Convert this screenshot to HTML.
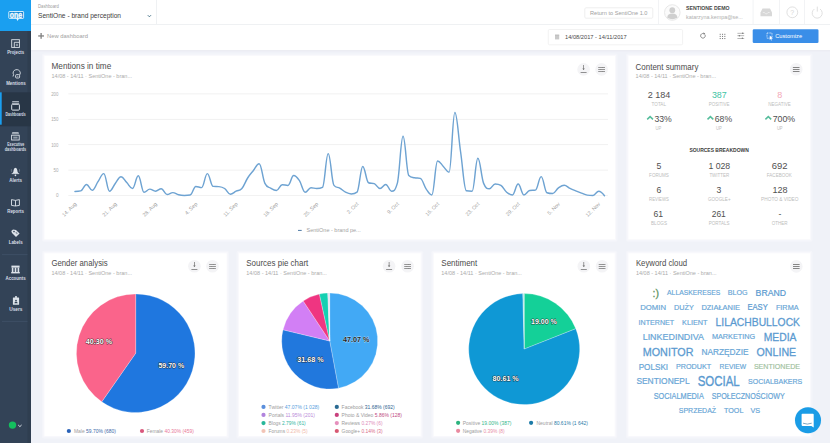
<!DOCTYPE html><html><head><meta charset="utf-8"><style>html,body{margin:0;padding:0;}body{width:830px;height:443px;overflow:hidden;background:#f0f2f8;font-family:'Liberation Sans', sans-serif;}svg{display:block;position:absolute;left:0;top:0}text{font-family:'Liberation Sans', sans-serif;}</style></head><body>
<svg width="830" height="443" viewBox="0 0 830 443">
<rect x="0" y="0" width="830" height="443" fill="#f0f2f8"/>
<rect x="31" y="0" width="799" height="50.2" fill="#ffffff"/>
<rect x="31" y="24" width="799" height="0.8" fill="#eceef1"/>
<rect x="31" y="50.2" width="799" height="1.2" fill="#eaecf2"/>
<rect x="156" y="0" width="0.8" height="24" fill="#eceef1"/>
<text x="38.00" y="7.80" font-size="4.5" fill="#9c9c9c" font-weight="normal" textLength="20.80" lengthAdjust="spacingAndGlyphs">Dashboard</text>
<text x="38.00" y="18.25" font-size="7.8" fill="#3c3c3c" font-weight="normal" textLength="83.00" lengthAdjust="spacingAndGlyphs">SentiOne - brand perception</text>
<path d="M147.8 15.2 L149.4 16.8 L151 15.2" fill="none" stroke="#3a6a80" stroke-width="0.9"/>
<rect x="584.8" y="7.8" width="68" height="10.4" rx="1.2" fill="#fff" stroke="#e8e8e8" stroke-width="0.7"/>
<text x="590.00" y="14.80" font-size="5.2" fill="#a0a0a0" font-weight="normal" textLength="57.50" lengthAdjust="spacingAndGlyphs">Return to SentiOne 1.0</text>
<rect x="658.2" y="0" width="0.7" height="24" fill="#eceef1"/>
<circle cx="672.3" cy="12.5" r="7.8" fill="#fbfbfb" stroke="#e2e2e2" stroke-width="0.8"/>
<circle cx="672.3" cy="10.2" r="2.9" fill="#cfcfcf"/>
<path d="M667.2 17.8 Q667.5 13.6 672.3 13.6 Q677.1 13.6 677.4 17.8 Q672.3 20.5 667.2 17.8Z" fill="#cfcfcf"/>
<text x="686.10" y="10.30" font-size="5.0" fill="#474747" font-weight="bold" textLength="43.40" lengthAdjust="spacingAndGlyphs">SENTIONE DEMO</text>
<text x="686.10" y="18.60" font-size="5.2" fill="#b0b0b0" font-weight="normal" textLength="56.70" lengthAdjust="spacingAndGlyphs">katarzyna.kempa@se...</text>
<rect x="752.7" y="0" width="0.7" height="24" fill="#eceef1"/>
<rect x="779.3" y="0" width="0.7" height="24" fill="#eceef1"/>
<rect x="804.2" y="0" width="0.7" height="24" fill="#eceef1"/>
<path d="M760.5 12.5 L762.5 8.6 L770 8.6 L772 12.5 L772 16.3 L760.5 16.3 Z" fill="#d8d8d8"/>
<path d="M762.8 12.5 L764.5 12.5 L765.5 13.8 L767 13.8 L768 12.5 L769.7 12.5" fill="none" stroke="#f4f4f4" stroke-width="0.7"/>
<circle cx="792.3" cy="12.3" r="5.4" fill="none" stroke="#dcdcdc" stroke-width="0.9"/>
<text x="792.30" y="14.90" font-size="7" fill="#d6d6d6" font-weight="normal" text-anchor="middle">?</text>
<path d="M814.4 9.0 A5 5 0 1 0 820.0 9.0" fill="none" stroke="#dcdcdc" stroke-width="0.9"/>
<rect x="816.8" y="6.6" width="0.9" height="5" fill="#dcdcdc"/>
<rect x="38.2" y="35.3" width="5.8" height="1.3" fill="#808080"/><rect x="40.45" y="33.0" width="1.3" height="5.8" fill="#808080"/>
<text x="47.00" y="37.90" font-size="5.4" fill="#a2a2a2" font-weight="normal" textLength="40.90" lengthAdjust="spacingAndGlyphs">New dashboard</text>
<rect x="548.3" y="29.5" width="134.3" height="15.3" rx="1.2" fill="#fff" stroke="#ececec" stroke-width="0.7"/>
<rect x="555" y="35.2" width="4.2" height="4.2" fill="#c9c9c9"/><rect x="555" y="34.6" width="4.2" height="1" fill="#b5b5b5"/>
<text x="565.00" y="39.40" font-size="5.4" fill="#4a4a4a" font-weight="normal" textLength="61.70" lengthAdjust="spacingAndGlyphs">14/08/2017 - 14/11/2017</text>
<path d="M704.9 34.6 A2.3 2.3 0 1 1 703.6 33.6" fill="none" stroke="#7c7c7c" stroke-width="0.9"/>
<path d="M703.0 32.6 L705.2 33.2 L704.0 35.0Z" fill="#7c7c7c"/>
<rect x="719.70" y="33.80" width="1.05" height="1.05" fill="#7c7c7c"/>
<rect x="719.70" y="35.90" width="1.05" height="1.05" fill="#7c7c7c"/>
<rect x="719.70" y="38.00" width="1.05" height="1.05" fill="#7c7c7c"/>
<rect x="722.00" y="33.80" width="1.05" height="1.05" fill="#7c7c7c"/>
<rect x="722.00" y="35.90" width="1.05" height="1.05" fill="#7c7c7c"/>
<rect x="722.00" y="38.00" width="1.05" height="1.05" fill="#7c7c7c"/>
<rect x="724.30" y="33.80" width="1.05" height="1.05" fill="#7c7c7c"/>
<rect x="724.30" y="35.90" width="1.05" height="1.05" fill="#7c7c7c"/>
<rect x="724.30" y="38.00" width="1.05" height="1.05" fill="#7c7c7c"/>
<rect x="737.4" y="32.90" width="6.8" height="0.6" fill="#8a8a8a"/>
<circle cx="742.7" cy="33.2" r="0.75" fill="#7c7c7c"/>
<rect x="737.4" y="35.50" width="6.8" height="0.6" fill="#8a8a8a"/>
<circle cx="739.4" cy="35.8" r="0.75" fill="#7c7c7c"/>
<rect x="737.4" y="38.00" width="6.8" height="0.6" fill="#8a8a8a"/>
<circle cx="742.4" cy="38.3" r="0.75" fill="#7c7c7c"/>
<rect x="752.7" y="29.2" width="65.8" height="13.8" rx="1.3" fill="#3a8ee8"/>
<rect x="767" y="33" width="5" height="5.2" fill="none" stroke="#fff" stroke-width="0.7" stroke-dasharray="1 0.6"/>
<path d="M769.8 35.6 L772.8 38.6 L771.1 38.7 L771.9 40.3 L771.2 40.6 L770.5 39.0 L769.6 39.8Z" fill="#fff"/>
<text x="775.20" y="38.30" font-size="5.4" fill="#ffffff" font-weight="normal" textLength="26.90" lengthAdjust="spacingAndGlyphs">Customize</text>
<rect x="0" y="0" width="31" height="443" fill="#334357"/>
<rect x="27.5" y="0" width="3.5" height="443" fill="#2f3e50"/>
<rect x="0" y="0" width="31" height="31" fill="#1a9ff0"/>
<rect x="8.8" y="11.5" width="14.8" height="6.9" rx="0.6" fill="#1088d6" stroke="#e6f6ff" stroke-width="0.9"/>
<path d="M16.4 18.3 L17.3 21.0 L19.4 18.3Z" fill="#e6f6ff"/>
<text x="9.70" y="17.55" font-size="8.6" fill="#f2faff" font-weight="bold" textLength="12.30" lengthAdjust="spacingAndGlyphs" stroke="#f2faff" stroke-width="0.4">one</text>
<rect x="0" y="92.3" width="31" height="34" fill="#283646"/>
<rect x="0" y="92.3" width="1.7" height="32.4" fill="#1a9ff0"/>
<rect x="2" y="254.2" width="25.5" height="0.9" fill="#3f5066"/>
<rect x="2" y="320.9" width="25.5" height="0.9" fill="#3f5066"/>
<text x="7.20" y="54.15" font-size="4.5" fill="#d9dfe7" font-weight="bold" textLength="17.00" lengthAdjust="spacingAndGlyphs">Projects</text>
<text x="6.20" y="84.85" font-size="4.5" fill="#d9dfe7" font-weight="bold" textLength="19.40" lengthAdjust="spacingAndGlyphs">Mentions</text>
<text x="5.60" y="115.95" font-size="4.5" fill="#d9dfe7" font-weight="bold" textLength="20.00" lengthAdjust="spacingAndGlyphs">Dashboards</text>
<text x="7.20" y="145.95" font-size="4.5" fill="#d9dfe7" font-weight="bold" textLength="17.00" lengthAdjust="spacingAndGlyphs">Executive</text>
<text x="4.80" y="151.05" font-size="4.5" fill="#d9dfe7" font-weight="bold" textLength="21.40" lengthAdjust="spacingAndGlyphs">dashboards</text>
<text x="9.20" y="181.85" font-size="4.5" fill="#d9dfe7" font-weight="bold" textLength="12.70" lengthAdjust="spacingAndGlyphs">Alerts</text>
<text x="7.20" y="212.95" font-size="4.5" fill="#d9dfe7" font-weight="bold" textLength="16.70" lengthAdjust="spacingAndGlyphs">Reports</text>
<text x="8.70" y="243.75" font-size="4.5" fill="#d9dfe7" font-weight="bold" textLength="14.00" lengthAdjust="spacingAndGlyphs">Labels</text>
<text x="5.50" y="279.95" font-size="4.5" fill="#d9dfe7" font-weight="bold" textLength="20.10" lengthAdjust="spacingAndGlyphs">Accounts</text>
<text x="9.20" y="310.95" font-size="4.5" fill="#d9dfe7" font-weight="bold" textLength="13.30" lengthAdjust="spacingAndGlyphs">Users</text>
<rect x="11.7" y="39.7" width="7.7" height="7.7" fill="none" stroke="#dde3ea" stroke-width="0.9"/><path d="M14.3 47.4 L14.3 42.3 L19.4 42.3" fill="none" stroke="#dde3ea" stroke-width="0.9"/><rect x="15.8" y="43.8" width="2.2" height="2.2" fill="#dde3ea" opacity="0.5"/>
<path d="M13.0 76.5 L13.6 74.6 A3.6 3.3 0 1 1 16.2 76.2" fill="none" stroke="#dde3ea" stroke-width="0.9"/><rect x="15.6" y="74.6" width="4.0" height="3.4" rx="1" fill="#334357" stroke="#dde3ea" stroke-width="0.9"/><rect x="16.8" y="75.8" width="1.6" height="1.0" fill="#dde3ea" opacity="0.6"/>
<rect x="11.7" y="104.3" width="7.7" height="5.8" rx="0.8" fill="none" stroke="#dde3ea" stroke-width="1.0"/><rect x="12.2" y="101.3" width="6.7" height="0.8" fill="#dde3ea"/><rect x="11.9" y="102.8" width="7.3" height="0.8" fill="#dde3ea"/>
<rect x="11.6" y="135.2" width="7.6" height="4.8" fill="none" stroke="#dde3ea" stroke-width="0.9"/><rect x="12.2" y="132.0" width="6.4" height="0.7" fill="#dde3ea"/><rect x="11.9" y="133.4" width="7.0" height="0.7" fill="#dde3ea"/><rect x="13.2" y="136.6" width="4.4" height="2.0" fill="#dde3ea" opacity="0.55"/>
<path d="M12.2 173.6 Q13.6 172.6 13.6 170.2 Q13.8 167.7 15.45 167.7 Q17.1 167.7 17.3 170.2 Q17.3 172.6 18.7 173.6Z" fill="#dde3ea"/><rect x="11.7" y="173.3" width="7.5" height="0.8" fill="#dde3ea"/><circle cx="15.45" cy="175.4" r="0.8" fill="#dde3ea"/><path d="M11.4 169.2 Q11.2 170.6 11.6 171.8 M19.5 169.2 Q19.7 170.6 19.3 171.8" fill="none" stroke="#dde3ea" stroke-width="0.5" opacity="0.6"/>
<path d="M11.5 199.6 L15.45 200.4 L19.4 199.6 L19.4 205.4 L15.45 206.0 L11.5 205.4Z" fill="none" stroke="#dde3ea" stroke-width="0.9" stroke-linejoin="round"/><rect x="15.0" y="200.4" width="0.9" height="5.6" fill="#dde3ea"/>
<path d="M11.3 231.0 L13.0 229.6 L16.0 229.9 L19.6 233.5 L16.0 237.0 L12.0 233.1Z" fill="#dde3ea"/><circle cx="14.0" cy="231.6" r="0.8" fill="#334357"/><rect x="15.5" y="232.4" width="2.2" height="1.3" fill="#334357" opacity="0.5" transform="rotate(45 16.6 233)"/>
<path d="M11.4 267.6 L11.4 265.6 L19.6 265.6 L19.6 267.6Z" fill="#dde3ea"/><rect x="11.2" y="272.0" width="8.6" height="1.4" fill="#dde3ea"/><rect x="11.8" y="267.6" width="1.6" height="4.4" fill="#dde3ea"/><rect x="14.7" y="267.6" width="1.6" height="4.4" fill="#dde3ea"/><rect x="17.6" y="267.6" width="1.6" height="4.4" fill="#dde3ea"/>
<rect x="12.9" y="297.6" width="6.2" height="7.2" rx="0.5" fill="#dde3ea"/><rect x="15.2" y="296.0" width="1.6" height="2.0" fill="#dde3ea"/><circle cx="16.0" cy="300.6" r="0.9" fill="#334357"/><path d="M14.3 303.2 Q14.6 301.8 16.0 301.8 Q17.4 301.8 17.7 303.2Z" fill="#334357"/>
<circle cx="12.5" cy="425.1" r="3.7" fill="#14bf5e"/>
<path d="M18.2 425.0 L19.9 426.6 L21.6 425.0" fill="none" stroke="#e2e8ef" stroke-width="0.95"/>
<rect x="42.0" y="53.5" width="575.50" height="188.20" rx="2" fill="#f4f5fa"/>
<rect x="43.5" y="55.0" width="572.50" height="185.20" fill="#f9f9fc"/>
<rect x="44.5" y="56.0" width="570.50" height="183.20" fill="#ffffff"/>
<text x="51.50" y="69.00" font-size="8.2" fill="#4b4b4b" font-weight="normal" textLength="59.70" lengthAdjust="spacingAndGlyphs">Mentions in time</text>
<text x="51.50" y="77.80" font-size="5.0" fill="#ababab" font-weight="normal" textLength="80.50" lengthAdjust="spacingAndGlyphs">14/08 - 14/11 · SentiOne - bran...</text>
<circle cx="583.6" cy="69.4" r="6.3" fill="#f4f4f6"/>
<rect x="583.25" y="65.00" width="0.7" height="4.6" fill="#6e6e6e"/>
<path d="M582.30 68.40 L583.60 70.00 L584.90 68.40Z" fill="#6e6e6e"/>
<rect x="580.60" y="72.10" width="6.0" height="0.75" fill="#6e6e6e"/>
<circle cx="601.6" cy="69.4" r="6.3" fill="#f4f4f6"/>
<rect x="598.20" y="67.15" width="6.8" height="0.7" fill="#6e6e6e"/>
<circle cx="602.60" cy="67.50" r="0.6" fill="#8a8a8a"/>
<rect x="598.20" y="69.15" width="6.8" height="0.7" fill="#6e6e6e"/>
<circle cx="600.70" cy="69.50" r="0.6" fill="#8a8a8a"/>
<rect x="598.20" y="71.15" width="6.8" height="0.7" fill="#6e6e6e"/>
<circle cx="602.60" cy="71.50" r="0.6" fill="#8a8a8a"/>
<rect x="68.3" y="93.55" width="539.7" height="0.7" fill="#ececec"/>
<text x="51.20" y="95.70" font-size="5.0" fill="#ababab" font-weight="normal" textLength="7.30" lengthAdjust="spacingAndGlyphs">200</text>
<rect x="68.3" y="118.95" width="539.7" height="0.7" fill="#ececec"/>
<text x="51.20" y="121.10" font-size="5.0" fill="#ababab" font-weight="normal" textLength="7.30" lengthAdjust="spacingAndGlyphs">150</text>
<rect x="68.3" y="144.35" width="539.7" height="0.7" fill="#ececec"/>
<text x="51.20" y="146.50" font-size="5.0" fill="#ababab" font-weight="normal" textLength="7.30" lengthAdjust="spacingAndGlyphs">100</text>
<rect x="68.3" y="169.75" width="539.7" height="0.7" fill="#ececec"/>
<text x="53.50" y="171.90" font-size="5.0" fill="#ababab" font-weight="normal" textLength="5.00" lengthAdjust="spacingAndGlyphs">50</text>
<rect x="68.3" y="195.25" width="539.7" height="0.7" fill="#ececec"/>
<text x="55.90" y="197.40" font-size="5.0" fill="#ababab" font-weight="normal" textLength="2.60" lengthAdjust="spacingAndGlyphs">0</text>
<text x="76.87" y="204.30" font-size="5.3" fill="#a0a0a0" text-anchor="end" transform="rotate(-45 76.87 204.30)">14. Aug</text>
<text x="117.16" y="204.30" font-size="5.3" fill="#a0a0a0" text-anchor="end" transform="rotate(-45 117.16 204.30)">21. Aug</text>
<text x="157.45" y="204.30" font-size="5.3" fill="#a0a0a0" text-anchor="end" transform="rotate(-45 157.45 204.30)">28. Aug</text>
<text x="197.74" y="204.30" font-size="5.3" fill="#a0a0a0" text-anchor="end" transform="rotate(-45 197.74 204.30)">4. Sep</text>
<text x="238.03" y="204.30" font-size="5.3" fill="#a0a0a0" text-anchor="end" transform="rotate(-45 238.03 204.30)">11. Sep</text>
<text x="278.32" y="204.30" font-size="5.3" fill="#a0a0a0" text-anchor="end" transform="rotate(-45 278.32 204.30)">18. Sep</text>
<text x="318.61" y="204.30" font-size="5.3" fill="#a0a0a0" text-anchor="end" transform="rotate(-45 318.61 204.30)">25. Sep</text>
<text x="358.90" y="204.30" font-size="5.3" fill="#a0a0a0" text-anchor="end" transform="rotate(-45 358.90 204.30)">2. Oct</text>
<text x="399.19" y="204.30" font-size="5.3" fill="#a0a0a0" text-anchor="end" transform="rotate(-45 399.19 204.30)">9. Oct</text>
<text x="439.48" y="204.30" font-size="5.3" fill="#a0a0a0" text-anchor="end" transform="rotate(-45 439.48 204.30)">16. Oct</text>
<text x="479.77" y="204.30" font-size="5.3" fill="#a0a0a0" text-anchor="end" transform="rotate(-45 479.77 204.30)">23. Oct</text>
<text x="520.06" y="204.30" font-size="5.3" fill="#a0a0a0" text-anchor="end" transform="rotate(-45 520.06 204.30)">29. Oct</text>
<text x="560.35" y="204.30" font-size="5.3" fill="#a0a0a0" text-anchor="end" transform="rotate(-45 560.35 204.30)">5. Nov</text>
<text x="600.64" y="204.30" font-size="5.3" fill="#a0a0a0" text-anchor="end" transform="rotate(-45 600.64 204.30)">12. Nov</text>
<path d="M74.97 191.40 C74.97 191.40 78.42 191.40 80.73 190.90 C83.03 190.40 84.18 184.40 86.48 184.40 C88.78 184.40 89.93 190.30 92.24 190.30 C94.54 190.30 95.69 185.04 97.99 181.70 C100.30 178.36 101.45 173.60 103.75 173.60 C106.05 173.60 107.20 191.20 109.50 191.20 C111.81 191.20 112.96 186.40 115.26 183.50 C117.56 180.60 118.71 176.70 121.02 176.70 C123.32 176.70 124.47 180.24 126.77 182.60 C129.07 184.96 130.23 188.50 132.53 188.50 C134.83 188.50 135.98 175.80 138.28 175.80 C140.59 175.80 141.74 192.30 144.04 192.30 C146.34 192.30 147.49 189.10 149.79 189.10 C152.10 189.10 153.25 191.20 155.55 191.20 C157.85 191.20 159.00 188.70 161.31 188.70 C163.61 188.70 164.76 194.50 167.06 194.50 C169.36 194.50 170.52 192.60 172.82 192.60 C175.12 192.60 176.27 194.24 178.57 194.80 C180.88 195.36 182.03 195.40 184.33 195.40 C186.63 195.40 187.78 195.40 190.09 195.00 C192.39 194.60 193.54 186.40 195.84 186.40 C198.14 186.40 199.29 187.60 201.60 187.60 C203.90 187.60 205.05 173.60 207.35 173.60 C209.65 173.60 210.81 186.20 213.11 186.40 C215.41 186.60 216.56 186.40 218.86 186.60 C221.17 186.80 222.32 186.98 224.62 188.50 C226.92 190.02 228.07 194.20 230.38 194.20 C232.68 194.20 233.83 192.34 236.13 191.20 C238.43 190.06 239.58 191.14 241.89 188.50 C244.19 185.86 245.34 181.60 247.64 178.00 C249.95 174.40 251.10 173.36 253.40 170.50 C255.70 167.64 256.85 163.70 259.15 163.70 C261.46 163.70 262.61 178.70 264.91 183.40 C267.21 188.10 268.36 186.70 270.67 188.10 C272.97 189.50 274.12 190.40 276.42 190.40 C278.72 190.40 279.88 184.70 282.18 184.70 C284.48 184.70 285.63 185.40 287.93 185.40 C290.24 185.40 291.39 175.50 293.69 175.50 C295.99 175.50 297.14 177.36 299.44 180.70 C301.75 184.04 302.90 192.20 305.20 192.20 C307.50 192.20 308.65 187.70 310.96 187.70 C313.26 187.70 314.41 188.50 316.71 188.50 C319.01 188.50 320.17 188.50 322.47 187.40 C324.77 186.30 325.92 153.60 328.22 153.60 C330.53 153.60 331.68 182.70 333.98 185.40 C336.28 188.10 337.43 186.74 339.74 188.10 C342.04 189.46 343.19 191.04 345.49 192.20 C347.79 193.36 348.94 193.90 351.25 193.90 C353.55 193.90 354.70 193.90 357.00 192.20 C359.30 190.50 360.46 166.40 362.76 166.40 C365.06 166.40 366.21 181.80 368.51 182.70 C370.82 183.60 371.97 182.70 374.27 183.60 C376.57 184.50 377.72 188.50 380.03 188.50 C382.33 188.50 383.48 184.40 385.78 184.40 C388.08 184.40 389.23 191.20 391.54 191.20 C393.84 191.20 394.99 191.20 397.29 183.40 C399.59 175.60 400.75 136.30 403.05 136.30 C405.35 136.30 406.50 173.20 408.80 175.50 C411.11 177.80 412.26 177.22 414.56 177.80 C416.86 178.38 418.01 177.80 420.32 178.40 C422.62 179.00 423.77 185.50 426.07 188.80 C428.37 192.10 429.52 194.90 431.83 194.90 C434.13 194.90 435.28 161.00 437.58 161.00 C439.89 161.00 441.04 164.16 443.34 166.40 C445.64 168.64 446.79 172.20 449.09 172.20 C451.40 172.20 452.55 112.50 454.85 112.50 C457.15 112.50 458.30 136.34 460.61 152.00 C462.91 167.66 464.06 190.40 466.36 190.80 C468.66 191.20 469.82 191.20 472.12 191.20 C474.42 191.20 475.57 158.30 477.87 158.30 C480.18 158.30 481.33 178.00 483.63 183.40 C485.93 188.80 487.08 188.80 489.38 188.80 C491.69 188.80 492.84 184.00 495.14 184.00 C497.44 184.00 498.59 184.00 500.90 185.40 C503.20 186.80 504.35 190.30 506.65 192.20 C508.95 194.10 510.11 194.90 512.41 194.90 C514.71 194.90 515.86 184.00 518.16 184.00 C520.47 184.00 521.62 194.90 523.92 194.90 C526.22 194.90 527.37 190.90 529.68 190.50 C531.98 190.10 533.13 190.50 535.43 190.10 C537.73 189.70 538.88 176.60 541.19 176.60 C543.49 176.60 544.64 191.90 546.94 192.70 C549.24 193.50 550.40 193.50 552.70 193.50 C555.00 193.50 556.15 189.56 558.45 187.90 C560.76 186.24 561.91 185.20 564.21 185.20 C566.51 185.20 567.66 187.26 569.97 188.40 C572.27 189.54 573.42 189.96 575.72 190.90 C578.02 191.84 579.17 192.26 581.48 193.10 C583.78 193.94 584.93 194.80 587.23 195.10 C589.54 195.40 590.69 195.40 592.99 195.40 C595.29 195.40 596.44 191.20 598.74 191.20 C601.05 191.20 604.50 195.70 604.50 195.70" fill="none" stroke="#6ea3d2" stroke-width="1.45" stroke-linejoin="round" stroke-linecap="round"/>
<rect x="298" y="229.9" width="3.7" height="1.0" fill="#4f7aa6"/>
<text x="306.50" y="232.20" font-size="5.1" fill="#a2a2a2" font-weight="normal" textLength="54.20" lengthAdjust="spacingAndGlyphs">SentiOne - brand pe...</text>
<rect x="626.0" y="53.5" width="186.50" height="188.20" rx="2" fill="#f4f5fa"/>
<rect x="627.5" y="55.0" width="183.50" height="185.20" fill="#f9f9fc"/>
<rect x="628.5" y="56.0" width="181.50" height="183.20" fill="#ffffff"/>
<text x="635.60" y="69.80" font-size="8.2" fill="#4b4b4b" font-weight="normal" textLength="62.80" lengthAdjust="spacingAndGlyphs">Content summary</text>
<text x="635.60" y="77.50" font-size="5.0" fill="#ababab" font-weight="normal" textLength="80.40" lengthAdjust="spacingAndGlyphs">14/08 - 14/11 · SentiOne - bran...</text>
<circle cx="796.2" cy="69.2" r="6.3" fill="#f4f4f6"/>
<rect x="792.90" y="67.10" width="6.6" height="0.8" fill="#6a6a6a"/>
<rect x="792.90" y="69.10" width="6.6" height="0.8" fill="#6a6a6a"/>
<rect x="792.90" y="71.10" width="6.6" height="0.8" fill="#6a6a6a"/>
<text x="647.70" y="98.10" font-size="9.3" fill="#505050" font-weight="normal" textLength="22.60" lengthAdjust="spacingAndGlyphs">2 184</text>
<text x="651.60" y="106.10" font-size="5.0" fill="#bdbdbd" font-weight="normal" textLength="14.40" lengthAdjust="spacingAndGlyphs">TOTAL</text>
<text x="711.90" y="98.10" font-size="9.3" fill="#40c4a4" font-weight="normal" textLength="14.80" lengthAdjust="spacingAndGlyphs">387</text>
<text x="708.80" y="106.10" font-size="5.0" fill="#bdbdbd" font-weight="normal" textLength="20.80" lengthAdjust="spacingAndGlyphs">POSITIVE</text>
<text x="777.30" y="98.10" font-size="9.3" fill="#f3a9b7" font-weight="normal" textLength="5.00" lengthAdjust="spacingAndGlyphs">8</text>
<text x="768.20" y="106.10" font-size="5.0" fill="#bdbdbd" font-weight="normal" textLength="22.50" lengthAdjust="spacingAndGlyphs">NEGATIVE</text>
<path d="M647.20 119.40 L650.10 116.60 L653.00 119.40" fill="none" stroke="#56bd9c" stroke-width="1.5"/>
<text x="654.50" y="122.00" font-size="9.3" fill="#505050" font-weight="normal" textLength="17.30" lengthAdjust="spacingAndGlyphs">33%</text>
<path d="M707.50 119.40 L710.40 116.60 L713.30 119.40" fill="none" stroke="#56bd9c" stroke-width="1.5"/>
<text x="714.80" y="122.00" font-size="9.3" fill="#505050" font-weight="normal" textLength="17.30" lengthAdjust="spacingAndGlyphs">68%</text>
<path d="M765.40 119.40 L768.30 116.60 L771.20 119.40" fill="none" stroke="#56bd9c" stroke-width="1.5"/>
<text x="772.70" y="122.00" font-size="9.3" fill="#505050" font-weight="normal" textLength="22.50" lengthAdjust="spacingAndGlyphs">700%</text>
<text x="655.40" y="129.60" font-size="5.0" fill="#bdbdbd" font-weight="normal" textLength="5.80" lengthAdjust="spacingAndGlyphs">UP</text>
<text x="716.10" y="129.60" font-size="5.0" fill="#bdbdbd" font-weight="normal" textLength="5.80" lengthAdjust="spacingAndGlyphs">UP</text>
<text x="776.90" y="129.60" font-size="5.0" fill="#bdbdbd" font-weight="normal" textLength="5.70" lengthAdjust="spacingAndGlyphs">UP</text>
<text x="689.40" y="151.60" font-size="5.6" fill="#3a3a3a" font-weight="bold" textLength="59.40" lengthAdjust="spacingAndGlyphs">SOURCES BREAKDOWN</text>
<text x="656.40" y="168.50" font-size="9.3" fill="#505050" font-weight="normal" textLength="4.80" lengthAdjust="spacingAndGlyphs">5</text>
<text x="649.10" y="176.60" font-size="5.0" fill="#bdbdbd" font-weight="normal" textLength="19.80" lengthAdjust="spacingAndGlyphs">FORUMS</text>
<text x="708.40" y="168.50" font-size="9.3" fill="#505050" font-weight="normal" textLength="21.80" lengthAdjust="spacingAndGlyphs">1 028</text>
<text x="709.40" y="176.60" font-size="5.0" fill="#bdbdbd" font-weight="normal" textLength="19.70" lengthAdjust="spacingAndGlyphs">TWITTER</text>
<text x="771.70" y="168.50" font-size="9.3" fill="#505050" font-weight="normal" textLength="15.80" lengthAdjust="spacingAndGlyphs">692</text>
<text x="766.80" y="176.60" font-size="5.0" fill="#bdbdbd" font-weight="normal" textLength="25.10" lengthAdjust="spacingAndGlyphs">FACEBOOK</text>
<text x="656.40" y="192.60" font-size="9.3" fill="#505050" font-weight="normal" textLength="4.80" lengthAdjust="spacingAndGlyphs">6</text>
<text x="649.10" y="200.80" font-size="5.0" fill="#bdbdbd" font-weight="normal" textLength="19.80" lengthAdjust="spacingAndGlyphs">REVIEWS</text>
<text x="716.50" y="192.60" font-size="9.3" fill="#505050" font-weight="normal" textLength="4.80" lengthAdjust="spacingAndGlyphs">3</text>
<text x="707.90" y="200.80" font-size="5.0" fill="#bdbdbd" font-weight="normal" textLength="22.70" lengthAdjust="spacingAndGlyphs">GOOGLE+</text>
<text x="772.40" y="192.60" font-size="9.3" fill="#505050" font-weight="normal" textLength="15.10" lengthAdjust="spacingAndGlyphs">128</text>
<text x="761.10" y="200.80" font-size="5.0" fill="#bdbdbd" font-weight="normal" textLength="37.40" lengthAdjust="spacingAndGlyphs">PHOTO &amp; VIDEO</text>
<text x="653.50" y="216.70" font-size="9.3" fill="#505050" font-weight="normal" textLength="9.60" lengthAdjust="spacingAndGlyphs">61</text>
<text x="651.00" y="224.80" font-size="5.0" fill="#bdbdbd" font-weight="normal" textLength="16.00" lengthAdjust="spacingAndGlyphs">BLOGS</text>
<text x="711.70" y="216.70" font-size="9.3" fill="#505050" font-weight="normal" textLength="14.10" lengthAdjust="spacingAndGlyphs">261</text>
<text x="708.80" y="224.80" font-size="5.0" fill="#bdbdbd" font-weight="normal" textLength="20.80" lengthAdjust="spacingAndGlyphs">PORTALS</text>
<text x="778.40" y="216.70" font-size="9.3" fill="#505050" font-weight="normal" textLength="2.90" lengthAdjust="spacingAndGlyphs">-</text>
<text x="771.70" y="224.80" font-size="5.0" fill="#bdbdbd" font-weight="normal" textLength="15.80" lengthAdjust="spacingAndGlyphs">OTHER</text>
<rect x="42.0" y="250.8" width="187.10" height="187.60" rx="2" fill="#f4f5fa"/>
<rect x="43.5" y="252.3" width="184.10" height="184.60" fill="#f9f9fc"/>
<rect x="44.5" y="253.3" width="182.10" height="182.60" fill="#ffffff"/>
<text x="51.40" y="265.70" font-size="8.2" fill="#4b4b4b" font-weight="normal" textLength="56.30" lengthAdjust="spacingAndGlyphs">Gender analysis</text>
<text x="51.40" y="274.80" font-size="5.0" fill="#ababab" font-weight="normal" textLength="80.60" lengthAdjust="spacingAndGlyphs">14/08 - 14/11 · SentiOne - bran...</text>
<circle cx="194.4" cy="266.3" r="6.3" fill="#f4f4f6"/>
<rect x="194.05" y="262.00" width="0.7" height="4.6" fill="#6e6e6e"/>
<path d="M193.10 265.40 L194.40 267.00 L195.70 265.40Z" fill="#6e6e6e"/>
<rect x="191.40" y="269.10" width="6.0" height="0.75" fill="#6e6e6e"/>
<circle cx="212.5" cy="266.3" r="6.3" fill="#f4f4f6"/>
<rect x="209.10" y="264.15" width="6.8" height="0.7" fill="#6e6e6e"/>
<circle cx="213.50" cy="264.50" r="0.6" fill="#8a8a8a"/>
<rect x="209.10" y="266.15" width="6.8" height="0.7" fill="#6e6e6e"/>
<circle cx="211.60" cy="266.50" r="0.6" fill="#8a8a8a"/>
<rect x="209.10" y="268.15" width="6.8" height="0.7" fill="#6e6e6e"/>
<circle cx="213.50" cy="268.50" r="0.6" fill="#8a8a8a"/>
<path d="M135.70 353.20 L135.70 293.90 A59.3 59.3 0 1 1 101.75 401.82 Z" fill="#1f77df" stroke="#ffffff" stroke-opacity="0.7" stroke-width="0.35" stroke-linejoin="round"/>
<path d="M135.70 353.20 L101.75 401.82 A59.3 59.3 0 0 1 135.70 293.90 Z" fill="#fa648b" stroke="#ffffff" stroke-opacity="0.7" stroke-width="0.35" stroke-linejoin="round"/>
<text x="158.40" y="368.00" font-size="7.6" fill="#ffffff" font-weight="bold" textLength="25.80" lengthAdjust="spacingAndGlyphs" stroke="#1a1a1a" stroke-opacity="0.75" stroke-width="1.1" paint-order="stroke" stroke-linejoin="round">59.70 %</text>
<text x="85.80" y="343.80" font-size="7.6" fill="#ffffff" font-weight="bold" textLength="26.20" lengthAdjust="spacingAndGlyphs" stroke="#1a1a1a" stroke-opacity="0.75" stroke-width="1.1" paint-order="stroke" stroke-linejoin="round">40.30 %</text>
<circle cx="68.85" cy="431.00" r="2.1" fill="#2a62b8"/>
<text x="73.90" y="432.80" font-size="5.2" fill="#9c9c9c" textLength="42.00" lengthAdjust="spacingAndGlyphs">Male <tspan fill="#3c68a8">59.70% (680)</tspan></text>
<circle cx="142.00" cy="431.00" r="2.1" fill="#d9577c"/>
<text x="146.80" y="432.80" font-size="5.2" fill="#9c9c9c" textLength="47.00" lengthAdjust="spacingAndGlyphs">Female <tspan fill="#e87898">40.30% (459)</tspan></text>
<rect x="236.5" y="250.8" width="186.70" height="187.60" rx="2" fill="#f4f5fa"/>
<rect x="238" y="252.3" width="183.70" height="184.60" fill="#f9f9fc"/>
<rect x="239" y="253.3" width="181.70" height="182.60" fill="#ffffff"/>
<text x="246.30" y="265.70" font-size="8.2" fill="#4b4b4b" font-weight="normal" textLength="62.00" lengthAdjust="spacingAndGlyphs">Sources pie chart</text>
<text x="246.30" y="274.80" font-size="5.0" fill="#ababab" font-weight="normal" textLength="80.60" lengthAdjust="spacingAndGlyphs">14/08 - 14/11 · SentiOne - bran...</text>
<circle cx="389.1" cy="266.3" r="6.3" fill="#f4f4f6"/>
<rect x="388.75" y="262.00" width="0.7" height="4.6" fill="#6e6e6e"/>
<path d="M387.80 265.40 L389.10 267.00 L390.40 265.40Z" fill="#6e6e6e"/>
<rect x="386.10" y="269.10" width="6.0" height="0.75" fill="#6e6e6e"/>
<circle cx="407.6" cy="266.3" r="6.3" fill="#f4f4f6"/>
<rect x="404.20" y="264.15" width="6.8" height="0.7" fill="#6e6e6e"/>
<circle cx="408.60" cy="264.50" r="0.6" fill="#8a8a8a"/>
<rect x="404.20" y="266.15" width="6.8" height="0.7" fill="#6e6e6e"/>
<circle cx="406.70" cy="266.50" r="0.6" fill="#8a8a8a"/>
<rect x="404.20" y="268.15" width="6.8" height="0.7" fill="#6e6e6e"/>
<circle cx="408.60" cy="268.50" r="0.6" fill="#8a8a8a"/>
<path d="M329.70 341.00 L329.70 293.00 A48.0 48.0 0 0 1 338.49 388.19 Z" fill="#42a9f5" stroke="#ffffff" stroke-opacity="0.7" stroke-width="0.35" stroke-linejoin="round"/>
<path d="M329.70 341.00 L338.49 388.19 A48.0 48.0 0 0 1 283.03 329.79 Z" fill="#2178dd" stroke="#ffffff" stroke-opacity="0.7" stroke-width="0.35" stroke-linejoin="round"/>
<path d="M329.70 341.00 L283.03 329.79 A48.0 48.0 0 0 1 303.22 300.96 Z" fill="#d27ff5" stroke="#ffffff" stroke-opacity="0.7" stroke-width="0.35" stroke-linejoin="round"/>
<path d="M329.70 341.00 L303.22 300.96 A48.0 48.0 0 0 1 319.41 294.12 Z" fill="#ef3581" stroke="#ffffff" stroke-opacity="0.7" stroke-width="0.35" stroke-linejoin="round"/>
<path d="M329.70 341.00 L319.41 294.12 A48.0 48.0 0 0 1 327.74 293.04 Z" fill="#14d0b2" stroke="#ffffff" stroke-opacity="0.7" stroke-width="0.35" stroke-linejoin="round"/>
<path d="M329.70 341.00 L327.74 293.04 A48.0 48.0 0 0 1 328.43 293.02 Z" fill="#c9cbe6" stroke="#ffffff" stroke-opacity="0.7" stroke-width="0.35" stroke-linejoin="round"/>
<path d="M329.70 341.00 L328.43 293.02 A48.0 48.0 0 0 1 329.25 293.00 Z" fill="#c9cbe6" stroke="#ffffff" stroke-opacity="0.7" stroke-width="0.35" stroke-linejoin="round"/>
<path d="M329.70 341.00 L329.25 293.00 A48.0 48.0 0 0 1 329.67 293.00 Z" fill="#c9cbe6" stroke="#ffffff" stroke-opacity="0.7" stroke-width="0.35" stroke-linejoin="round"/>
<text x="343.00" y="341.80" font-size="7.6" fill="#1e1e1e" font-weight="bold" textLength="26.30" lengthAdjust="spacingAndGlyphs" stroke="#ffffff" stroke-opacity="0.6" stroke-width="0.8" paint-order="stroke" stroke-linejoin="round">47.07 %</text>
<text x="297.20" y="362.00" font-size="7.6" fill="#ffffff" font-weight="bold" textLength="26.50" lengthAdjust="spacingAndGlyphs" stroke="#1a1a1a" stroke-opacity="0.75" stroke-width="1.1" paint-order="stroke" stroke-linejoin="round">31.68 %</text>
<circle cx="263.50" cy="406.90" r="2.1" fill="#5b8fdc"/>
<text x="268.60" y="408.70" font-size="5.2" fill="#9c9c9c" textLength="50.60" lengthAdjust="spacingAndGlyphs">Twitter <tspan fill="#58a0de">47.07% (1 028)</tspan></text>
<circle cx="263.50" cy="414.90" r="2.1" fill="#b183dd"/>
<text x="268.60" y="416.70" font-size="5.2" fill="#9c9c9c" textLength="46.30" lengthAdjust="spacingAndGlyphs">Portals <tspan fill="#b98ad8">11.95% (201)</tspan></text>
<circle cx="263.50" cy="423.10" r="2.1" fill="#27b79a"/>
<text x="268.60" y="424.90" font-size="5.2" fill="#9c9c9c" textLength="37.10" lengthAdjust="spacingAndGlyphs">Blogs <tspan fill="#2fb5a0">2.79% (61)</tspan></text>
<circle cx="263.50" cy="431.00" r="2.1" fill="#f2c4b6"/>
<text x="268.60" y="432.80" font-size="5.2" fill="#9c9c9c" textLength="39.00" lengthAdjust="spacingAndGlyphs">Forums <tspan fill="#f0b9a9">0.23% (5)</tspan></text>
<circle cx="336.80" cy="406.90" r="2.1" fill="#2a6a92"/>
<text x="341.60" y="408.70" font-size="5.2" fill="#9c9c9c" textLength="53.10" lengthAdjust="spacingAndGlyphs">Facebook <tspan fill="#2f5f90">31.68% (692)</tspan></text>
<circle cx="336.80" cy="414.90" r="2.1" fill="#c8407d"/>
<text x="341.60" y="416.70" font-size="5.2" fill="#9c9c9c" textLength="60.30" lengthAdjust="spacingAndGlyphs">Photo &amp; Video <tspan fill="#c04a80">5.86% (128)</tspan></text>
<circle cx="336.80" cy="423.10" r="2.1" fill="#e690bd"/>
<text x="341.60" y="424.90" font-size="5.2" fill="#9c9c9c" textLength="41.00" lengthAdjust="spacingAndGlyphs">Reviews <tspan fill="#e08ab8">0.27% (6)</tspan></text>
<circle cx="336.80" cy="431.00" r="2.1" fill="#d75872"/>
<text x="341.60" y="432.80" font-size="5.2" fill="#9c9c9c" textLength="41.00" lengthAdjust="spacingAndGlyphs">Google+ <tspan fill="#d86a88">0.14% (3)</tspan></text>
<rect x="431.3" y="250.8" width="185.90" height="187.60" rx="2" fill="#f4f5fa"/>
<rect x="432.8" y="252.3" width="182.90" height="184.60" fill="#f9f9fc"/>
<rect x="433.8" y="253.3" width="180.90" height="182.60" fill="#ffffff"/>
<text x="441.30" y="265.70" font-size="8.2" fill="#4b4b4b" font-weight="normal" textLength="36.00" lengthAdjust="spacingAndGlyphs">Sentiment</text>
<text x="441.30" y="274.80" font-size="5.0" fill="#ababab" font-weight="normal" textLength="80.60" lengthAdjust="spacingAndGlyphs">14/08 - 14/11 · SentiOne - bran...</text>
<circle cx="583.8" cy="266.3" r="6.3" fill="#f4f4f6"/>
<rect x="583.45" y="262.00" width="0.7" height="4.6" fill="#6e6e6e"/>
<path d="M582.50 265.40 L583.80 267.00 L585.10 265.40Z" fill="#6e6e6e"/>
<rect x="580.80" y="269.10" width="6.0" height="0.75" fill="#6e6e6e"/>
<circle cx="602.1" cy="266.3" r="6.3" fill="#f4f4f6"/>
<rect x="598.70" y="264.15" width="6.8" height="0.7" fill="#6e6e6e"/>
<circle cx="603.10" cy="264.50" r="0.6" fill="#8a8a8a"/>
<rect x="598.70" y="266.15" width="6.8" height="0.7" fill="#6e6e6e"/>
<circle cx="601.20" cy="266.50" r="0.6" fill="#8a8a8a"/>
<rect x="598.70" y="268.15" width="6.8" height="0.7" fill="#6e6e6e"/>
<circle cx="603.10" cy="268.50" r="0.6" fill="#8a8a8a"/>
<path d="M524.20 349.10 L524.20 293.60 A55.5 55.5 0 0 1 575.80 328.67 Z" fill="#14d098" stroke="#ffffff" stroke-opacity="0.7" stroke-width="0.35" stroke-linejoin="round"/>
<path d="M524.20 349.10 L575.80 328.67 A55.5 55.5 0 1 1 522.84 293.62 Z" fill="#0f98d5" stroke="#ffffff" stroke-opacity="0.7" stroke-width="0.35" stroke-linejoin="round"/>
<path d="M524.20 349.10 L522.84 293.62 A55.5 55.5 0 0 1 524.20 293.60 Z" fill="#b8e6e8" stroke="#ffffff" stroke-opacity="0.7" stroke-width="0.35" stroke-linejoin="round"/>
<text x="531.00" y="323.80" font-size="7.6" fill="#ffffff" font-weight="bold" textLength="25.80" lengthAdjust="spacingAndGlyphs" stroke="#1a1a1a" stroke-opacity="0.75" stroke-width="1.1" paint-order="stroke" stroke-linejoin="round">19.00 %</text>
<text x="492.50" y="381.00" font-size="7.6" fill="#ffffff" font-weight="bold" textLength="26.20" lengthAdjust="spacingAndGlyphs" stroke="#1a1a1a" stroke-opacity="0.75" stroke-width="1.1" paint-order="stroke" stroke-linejoin="round">80.61 %</text>
<circle cx="458.10" cy="422.80" r="2.1" fill="#2cb37e"/>
<text x="462.70" y="424.60" font-size="5.2" fill="#9c9c9c" textLength="48.80" lengthAdjust="spacingAndGlyphs">Positive <tspan fill="#34b88a">19.00% (387)</tspan></text>
<circle cx="531.10" cy="422.80" r="2.1" fill="#1b7aa6"/>
<text x="536.50" y="424.60" font-size="5.2" fill="#9c9c9c" textLength="51.50" lengthAdjust="spacingAndGlyphs">Neutral <tspan fill="#2a7aa8">80.61% (1 642)</tspan></text>
<circle cx="458.10" cy="430.80" r="2.1" fill="#ea8aa0"/>
<text x="462.70" y="432.60" font-size="5.2" fill="#9c9c9c" textLength="42.00" lengthAdjust="spacingAndGlyphs">Negative <tspan fill="#e890a8">0.39% (8)</tspan></text>
<rect x="626.0" y="250.8" width="186.50" height="187.60" rx="2" fill="#f4f5fa"/>
<rect x="627.5" y="252.3" width="183.50" height="184.60" fill="#f9f9fc"/>
<rect x="628.5" y="253.3" width="181.50" height="182.60" fill="#ffffff"/>
<text x="635.90" y="265.70" font-size="8.2" fill="#4b4b4b" font-weight="normal" textLength="51.20" lengthAdjust="spacingAndGlyphs">Keyword cloud</text>
<text x="635.90" y="274.80" font-size="5.0" fill="#ababab" font-weight="normal" textLength="80.60" lengthAdjust="spacingAndGlyphs">14/08 - 14/11 · SentiOne - bran...</text>
<circle cx="796.3" cy="266.4" r="6.3" fill="#f4f4f6"/>
<rect x="793.00" y="264.10" width="6.6" height="0.8" fill="#6a6a6a"/>
<rect x="793.00" y="266.10" width="6.6" height="0.8" fill="#6a6a6a"/>
<rect x="793.00" y="268.10" width="6.6" height="0.8" fill="#6a6a6a"/>
<text x="667.10" y="295.15" font-size="7.41" fill="#68a6d6" font-weight="normal" textLength="53.20" lengthAdjust="spacingAndGlyphs" stroke="#68a6d6" stroke-width="0.178">ALLASKERESES</text>
<text x="727.80" y="295.10" font-size="7.27" fill="#68a6d6" font-weight="normal" textLength="19.90" lengthAdjust="spacingAndGlyphs" stroke="#68a6d6" stroke-width="0.174">BLOG</text>
<text x="755.60" y="296.00" font-size="9.88" fill="#5a9ad0" font-weight="normal" textLength="30.40" lengthAdjust="spacingAndGlyphs" stroke="#5a9ad0" stroke-width="0.237">BRAND</text>
<text x="640.30" y="309.65" font-size="7.41" fill="#68a6d6" font-weight="normal" textLength="25.70" lengthAdjust="spacingAndGlyphs" stroke="#68a6d6" stroke-width="0.178">DOMIN</text>
<text x="674.00" y="309.65" font-size="7.41" fill="#68a6d6" font-weight="normal" textLength="19.80" lengthAdjust="spacingAndGlyphs" stroke="#68a6d6" stroke-width="0.178">DUŻY</text>
<text x="701.40" y="309.70" font-size="7.56" fill="#68a6d6" font-weight="normal" textLength="38.60" lengthAdjust="spacingAndGlyphs" stroke="#68a6d6" stroke-width="0.181">DZIAŁANIE</text>
<text x="747.40" y="310.40" font-size="9.59" fill="#5a9ad0" font-weight="normal" textLength="20.40" lengthAdjust="spacingAndGlyphs" stroke="#5a9ad0" stroke-width="0.230">EASY</text>
<text x="775.90" y="309.70" font-size="7.56" fill="#68a6d6" font-weight="normal" textLength="22.70" lengthAdjust="spacingAndGlyphs" stroke="#68a6d6" stroke-width="0.181">FIRMA</text>
<text x="638.60" y="324.90" font-size="7.56" fill="#68a6d6" font-weight="normal" textLength="35.50" lengthAdjust="spacingAndGlyphs" stroke="#68a6d6" stroke-width="0.181">INTERNET</text>
<text x="682.10" y="324.90" font-size="7.56" fill="#68a6d6" font-weight="normal" textLength="25.20" lengthAdjust="spacingAndGlyphs" stroke="#68a6d6" stroke-width="0.181">KLIENT</text>
<text x="715.60" y="326.15" font-size="11.19" fill="#5a9ad0" font-weight="normal" textLength="84.40" lengthAdjust="spacingAndGlyphs" stroke="#5a9ad0" stroke-width="0.269">LILACHBULLOCK</text>
<text x="642.70" y="339.70" font-size="8.43" fill="#68a6d6" font-weight="normal" textLength="61.30" lengthAdjust="spacingAndGlyphs" stroke="#68a6d6" stroke-width="0.202">LINKEDINDIVA</text>
<text x="711.90" y="339.45" font-size="7.7" fill="#68a6d6" font-weight="normal" textLength="43.40" lengthAdjust="spacingAndGlyphs" stroke="#68a6d6" stroke-width="0.185">MARKETING</text>
<text x="763.70" y="340.70" font-size="11.34" fill="#5a9ad0" font-weight="normal" textLength="32.80" lengthAdjust="spacingAndGlyphs" stroke="#5a9ad0" stroke-width="0.272">MEDIA</text>
<text x="642.80" y="355.75" font-size="11.19" fill="#5a9ad0" font-weight="normal" textLength="50.60" lengthAdjust="spacingAndGlyphs" stroke="#5a9ad0" stroke-width="0.269">MONITOR</text>
<text x="701.40" y="354.90" font-size="8.72" fill="#68a6d6" font-weight="normal" textLength="47.10" lengthAdjust="spacingAndGlyphs" stroke="#68a6d6" stroke-width="0.209">NARZĘDZIE</text>
<text x="756.60" y="355.90" font-size="11.63" fill="#5a9ad0" font-weight="normal" textLength="39.60" lengthAdjust="spacingAndGlyphs" stroke="#5a9ad0" stroke-width="0.279">ONLINE</text>
<text x="638.70" y="369.90" font-size="9.88" fill="#68a6d6" font-weight="normal" textLength="29.40" lengthAdjust="spacingAndGlyphs" stroke="#68a6d6" stroke-width="0.237">POLSKI</text>
<text x="676.00" y="369.05" font-size="7.41" fill="#68a6d6" font-weight="normal" textLength="35.20" lengthAdjust="spacingAndGlyphs" stroke="#68a6d6" stroke-width="0.178">PRODUKT</text>
<text x="719.60" y="369.15" font-size="7.7" fill="#68a6d6" font-weight="normal" textLength="26.50" lengthAdjust="spacingAndGlyphs" stroke="#68a6d6" stroke-width="0.185">REVIEW</text>
<text x="753.90" y="369.10" font-size="7.56" fill="#9fc2a0" font-weight="normal" textLength="46.10" lengthAdjust="spacingAndGlyphs" stroke="#9fc2a0" stroke-width="0.181">SENTIONEDE</text>
<text x="636.40" y="384.35" font-size="9.45" fill="#68a6d6" font-weight="normal" textLength="53.20" lengthAdjust="spacingAndGlyphs" stroke="#68a6d6" stroke-width="0.227">SENTIONEPL</text>
<text x="697.70" y="386.05" font-size="14.39" fill="#5a9ad0" font-weight="normal" textLength="42.00" lengthAdjust="spacingAndGlyphs" stroke="#5a9ad0" stroke-width="0.345">SOCIAL</text>
<text x="748.10" y="383.80" font-size="7.85" fill="#68a6d6" font-weight="normal" textLength="54.20" lengthAdjust="spacingAndGlyphs" stroke="#68a6d6" stroke-width="0.188">SOCIALBAKERS</text>
<text x="653.70" y="398.50" font-size="8.14" fill="#68a6d6" font-weight="normal" textLength="50.10" lengthAdjust="spacingAndGlyphs" stroke="#68a6d6" stroke-width="0.195">SOCIALMEDIA</text>
<text x="711.70" y="398.50" font-size="8.14" fill="#68a6d6" font-weight="normal" textLength="73.00" lengthAdjust="spacingAndGlyphs" stroke="#68a6d6" stroke-width="0.195">SPOŁECZNOŚCIOWY</text>
<text x="678.80" y="413.35" font-size="7.99" fill="#68a6d6" font-weight="normal" textLength="37.30" lengthAdjust="spacingAndGlyphs" stroke="#68a6d6" stroke-width="0.192">SPRZEDAŻ</text>
<text x="724.00" y="413.35" font-size="7.99" fill="#68a6d6" font-weight="normal" textLength="19.40" lengthAdjust="spacingAndGlyphs" stroke="#68a6d6" stroke-width="0.192">TOOL</text>
<text x="750.40" y="413.35" font-size="7.99" fill="#68a6d6" font-weight="normal" textLength="9.70" lengthAdjust="spacingAndGlyphs" stroke="#68a6d6" stroke-width="0.192">VS</text>
<text x="652.60" y="297.00" font-size="11.0" fill="#5f965f" font-weight="normal" textLength="6.50" lengthAdjust="spacingAndGlyphs" stroke="#5f965f" stroke-width="0.3">:)</text>
<circle cx="808.0" cy="420.3" r="13.4" fill="#d6ecfa" opacity="0.5"/>
<circle cx="808.0" cy="420.3" r="13.0" fill="#1a9ce6"/>
<path d="M801.6 414.6 Q801.6 413.8 802.4 413.8 L812.9 413.8 Q813.7 413.8 813.7 414.6 L813.7 427.4 L811.4 425.9 L802.4 425.9 Q801.6 425.9 801.6 425.1Z" fill="#ffffff"/>
<path d="M803.0 423.2 Q807.3 425.0 811.7 423.2" fill="none" stroke="#2a6f9a" stroke-width="0.6"/>
</svg></body></html>
